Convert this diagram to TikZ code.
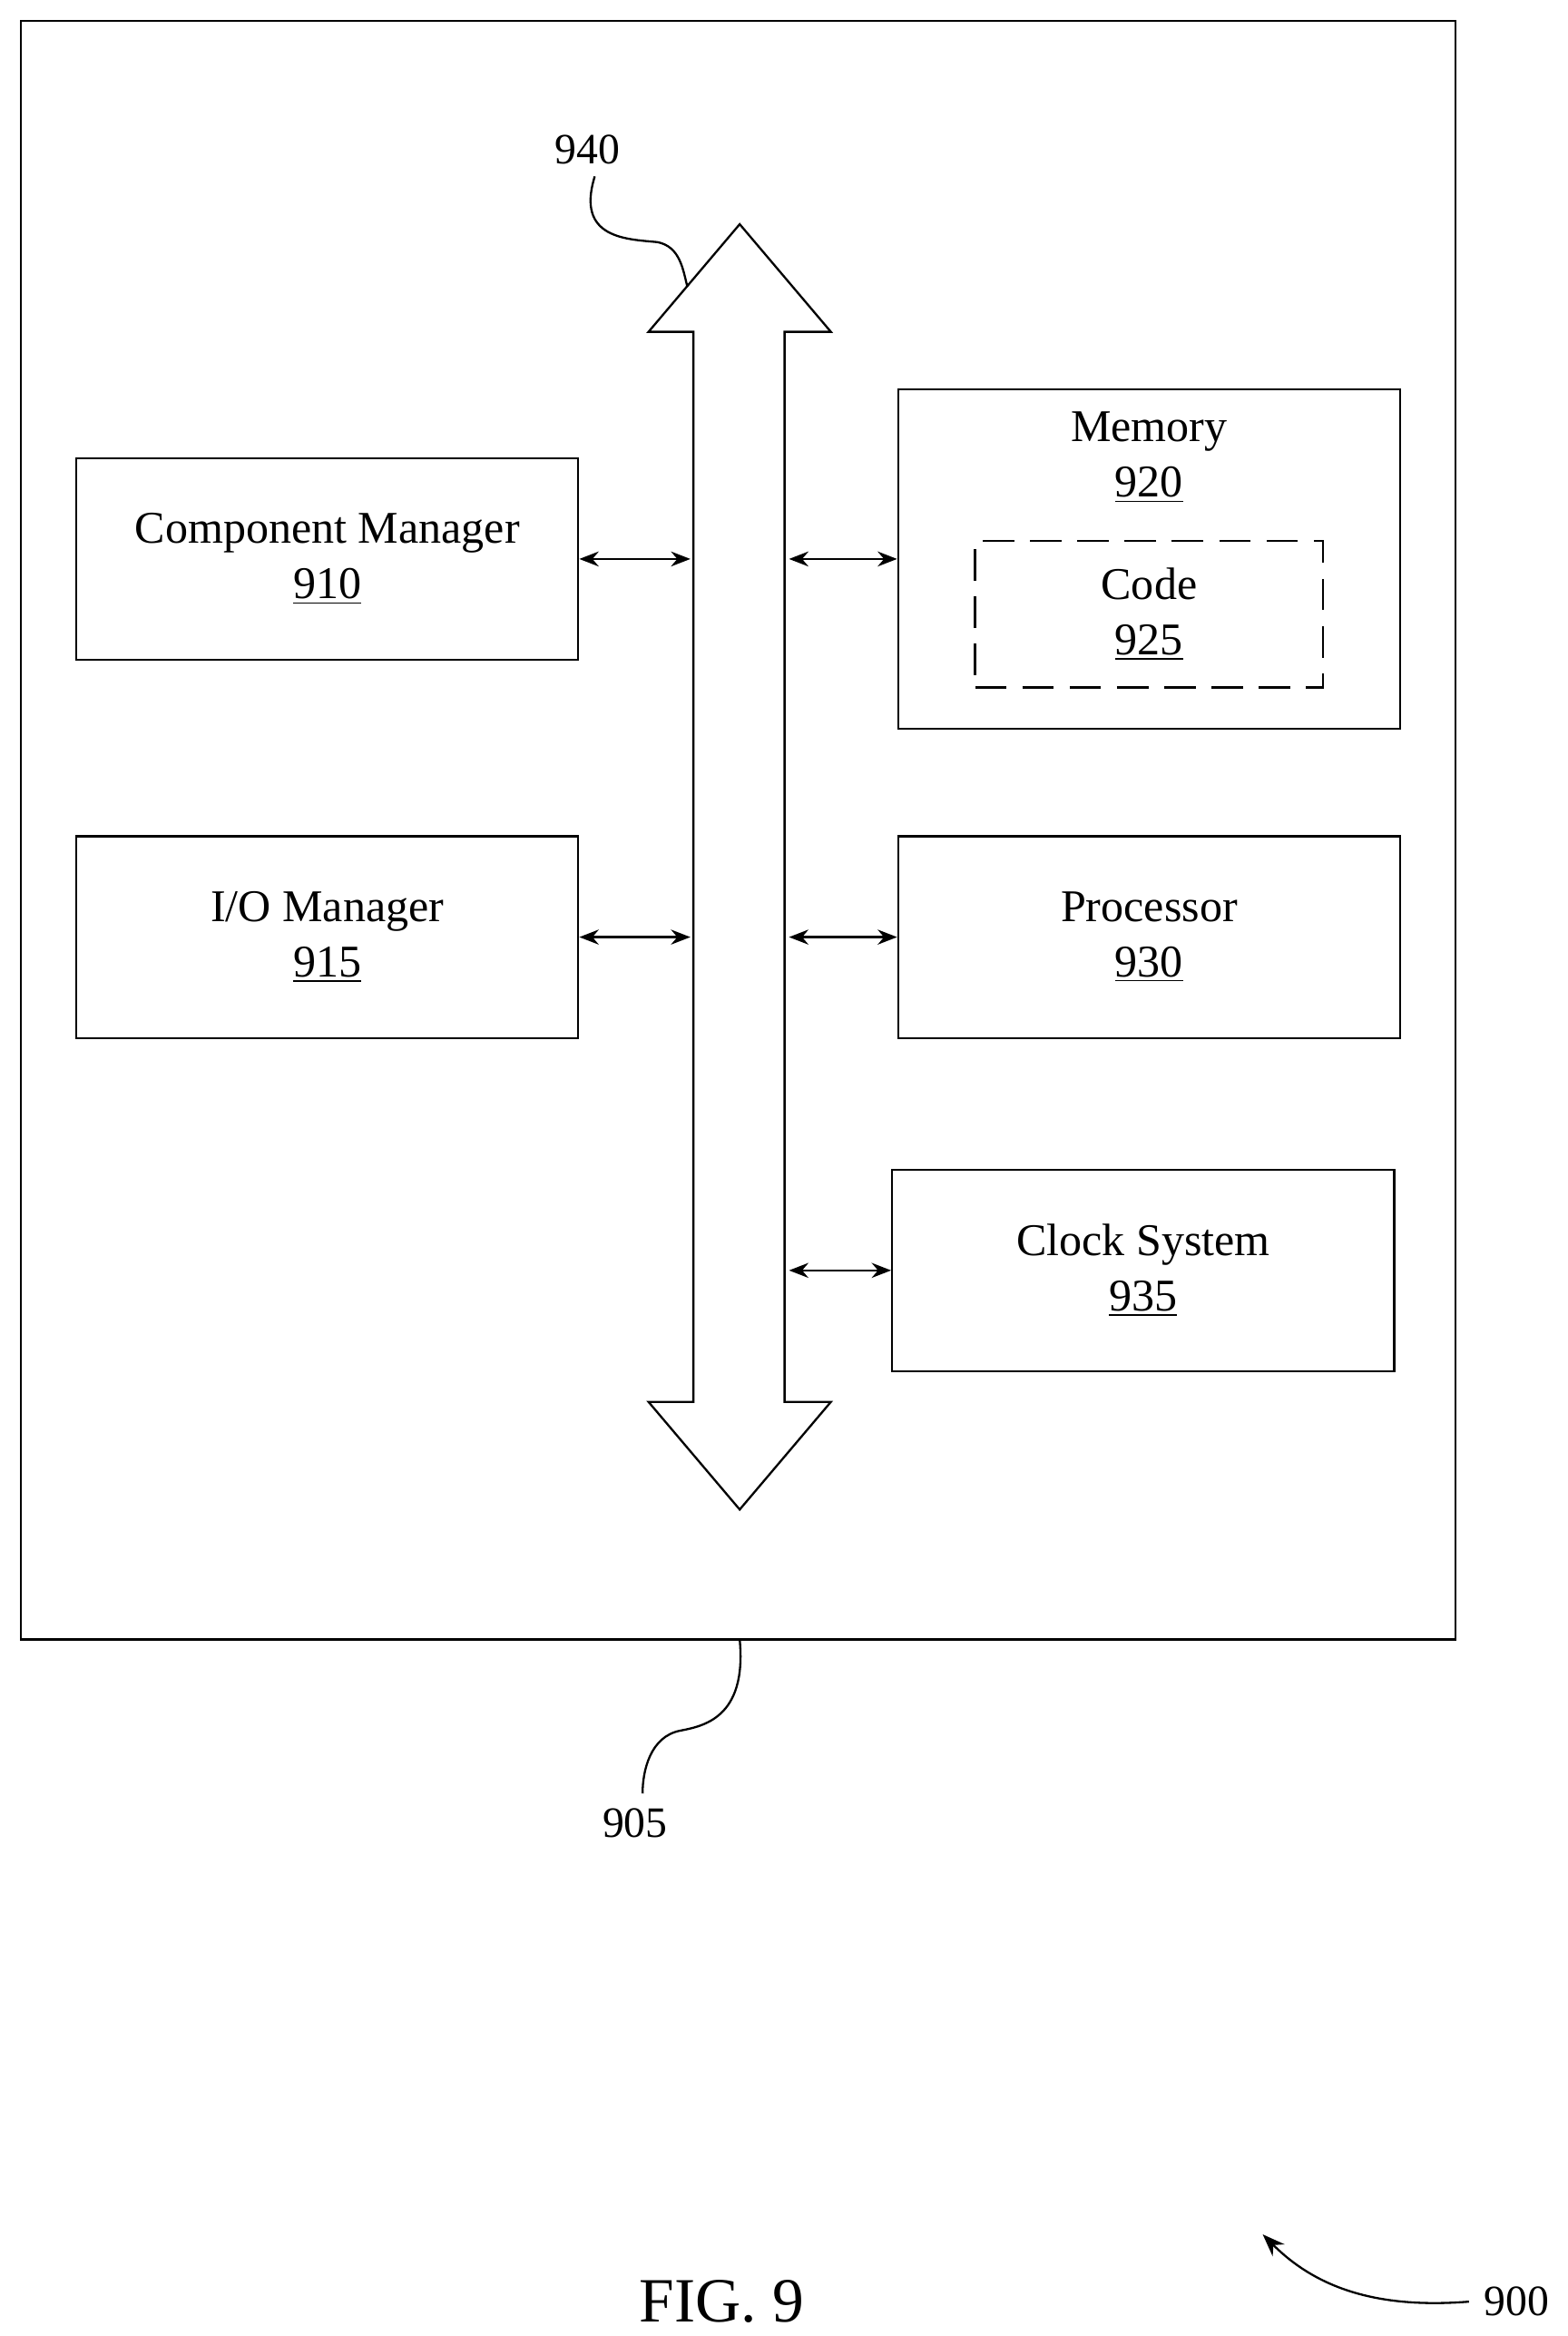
\documentclass[tikz,border=0pt]{standalone}
\usepackage{fontspec}
\setmainfont{Liberation Serif}
\usetikzlibrary{arrows.meta,positioning,calc}

\begin{document}
\begin{tikzpicture}[
    x=0.02cm, y=-0.02cm,
    blk/.style={draw, thick, minimum width=6.72cm, minimum height=2.70cm, align=center, font=\fontsize{17.3}{21}\selectfont},
    arrow/.style={{Stealth[length=2.6mm,width=2mm]}-{Stealth[length=2.6mm,width=2mm]}, thick},
    lbl/.style={font=\fontsize{16.5}{19}\selectfont}
]
\useasboundingbox (0,0) rectangle (1049,1563);
% device
\draw[thick] (14,14) rectangle (974,1097);

% bus
\draw[thick] (495,150) -- (556,222) -- (525,222) -- (525,938) -- (556,938) -- (495,1010)
    -- (434,938) -- (464,938) -- (464,222) -- (434,222) -- cycle;
\coordinate (busL1) at (462,374);
\coordinate (busR1) at (528,374);
\coordinate (busL2) at (462,627);
\coordinate (busR2) at (528,627);
\coordinate (busR3) at (528,850);

% blocks
\node[blk] (cm) at (219,374) {Component Manager\\\underline{910}};
\node[blk] (io) at (219,627) {I/O Manager\\\underline{915}};
\node[draw, thick, minimum width=6.72cm, minimum height=4.54cm] (mem) at (769,374) {};
\node[lbl, align=center, font=\fontsize{17.3}{21}\selectfont] (memt) at (769,306) {Memory\\\underline{920}};
\node[draw, thick, dashed, dash pattern=on 12pt off 6pt, minimum width=4.66cm, minimum height=1.96cm, align=center, font=\fontsize{17.3}{21}\selectfont] (code) at (769,411) {Code\\\underline{925}};
\node[blk] (proc) at (769,627) {Processor\\\underline{930}};
\node[blk] (clk) at (765,850) {Clock System\\\underline{935}};

\draw[arrow] (cm.east) -- (busL1);
\draw[arrow] (busR1) -- (mem.west |- busR1);
\draw[arrow] (io.east) -- (busL2);
\draw[arrow] (busR2) -- (proc.west);
\draw[arrow] (busR3) -- (clk.west);

% reference labels
\node[lbl] (n940) at (393,100) {940};
\draw[thick] (398,118) .. controls (385,160) and (420,160) .. (440,162) .. controls (455,165) and (457,180) .. (460,192);
\node[lbl] (n905) at (425,1220) {905};
\draw[thick] (495,1097) .. controls (500,1150) and (470,1155) .. (455,1158) .. controls (435,1162) and (430,1185) .. (430,1200);
\node[font=\fontsize{24}{27}\selectfont] (fig) at (483,1540) {FIG. 9};
\node[lbl] (n900) at (1015,1540) {900};
\draw[thick, -{Stealth[length=3mm]}] (983,1540) .. controls (920,1545) and (880,1530) .. (845,1495);
\end{tikzpicture}
\end{document}
